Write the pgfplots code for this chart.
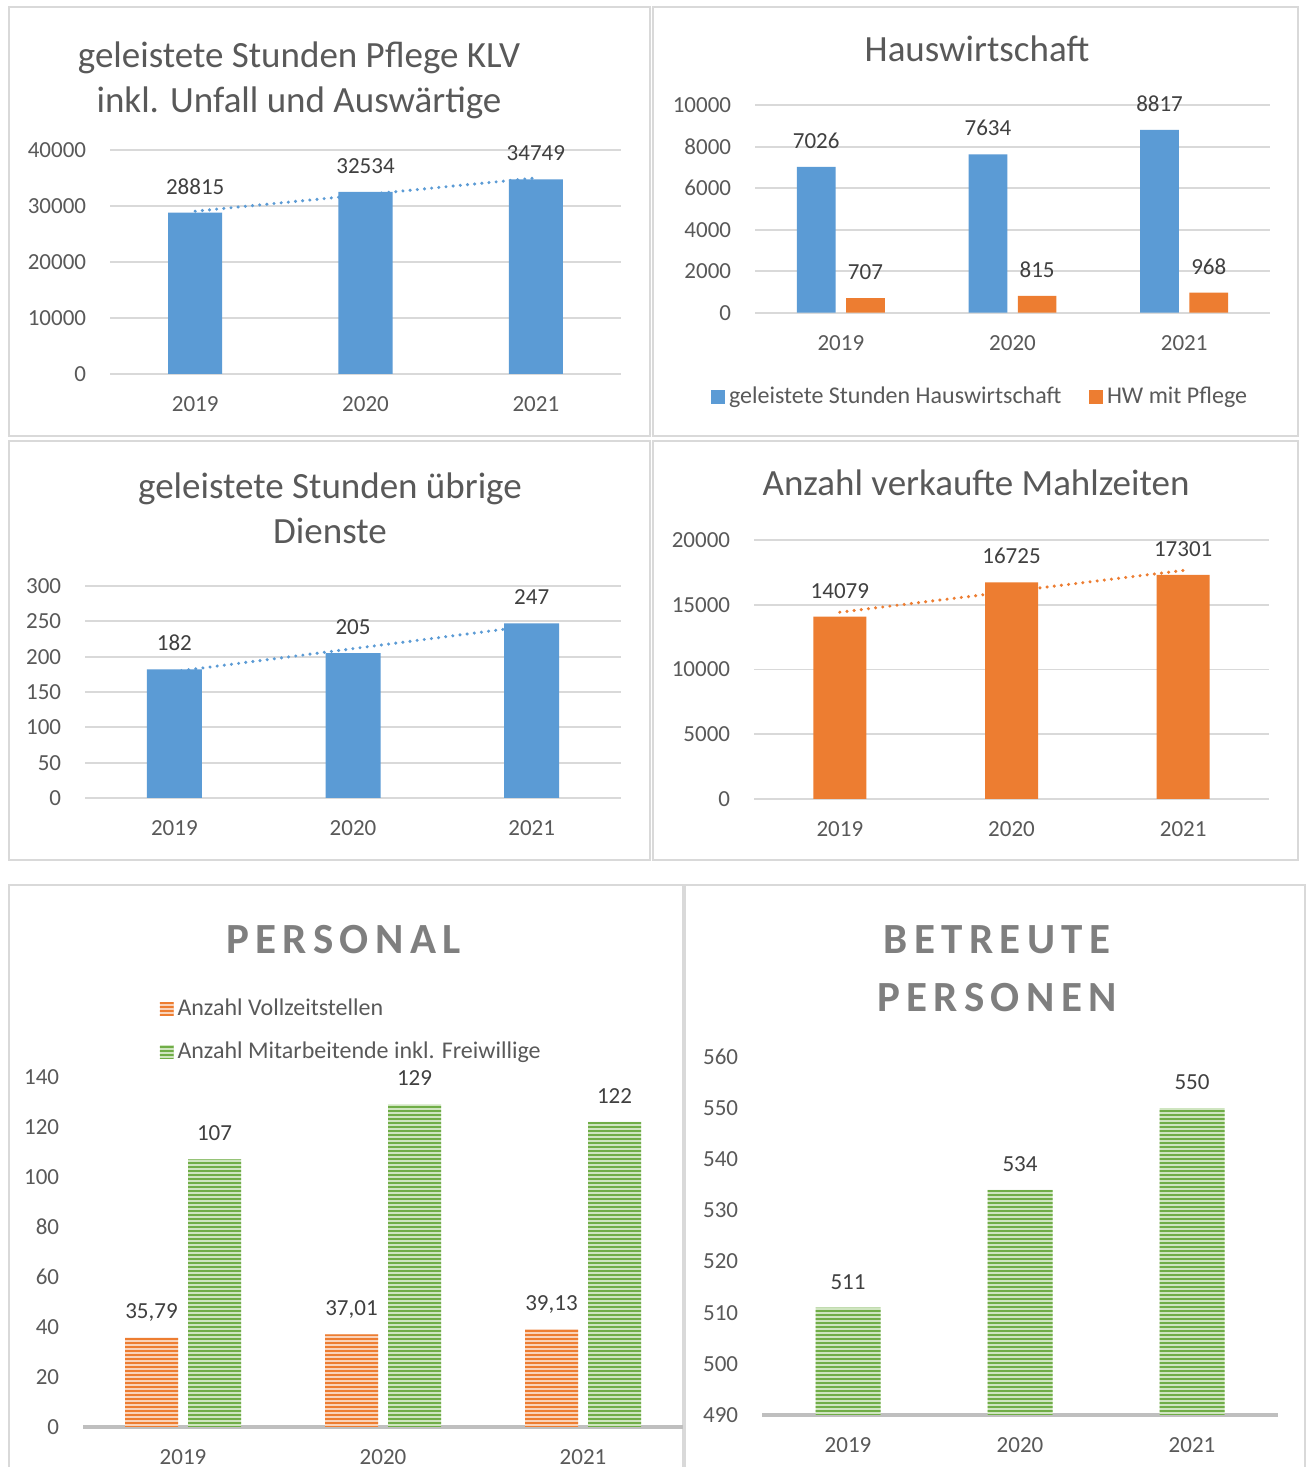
\documentclass[border=0pt]{standalone}
\usepackage{fontspec}
\setmainfont{Carlito}
\usepackage{pgfplots}
\pgfplotsset{compat=1.18}
\usetikzlibrary{patterns.meta}
\definecolor{cblue}{HTML}{5B9BD5}
\definecolor{corange}{HTML}{ED7D31}
\definecolor{cgreen}{HTML}{70AD47}
\definecolor{lgreen}{HTML}{CFE5C0}
\definecolor{lorange}{HTML}{F9D3BA}
\definecolor{txt}{HTML}{595959}
\definecolor{lbl}{HTML}{404040}
\definecolor{ttl}{HTML}{7F7F7F}
\definecolor{grd}{HTML}{D9D9D9}
\definecolor{basel}{HTML}{BFBFBF}
\definecolor{frm}{HTML}{D9D9D9}
\newcommand{\sm}{\fontsize{11.5}{13.8}\selectfont}
\newcommand{\legf}{\fontsize{12}{14}\selectfont}
\newcommand{\ttlf}{\fontsize{18.5}{22.5}\selectfont}
\newcommand{\bigt}{\fontsize{21.5}{26}\selectfont\bfseries\addfontfeature{LetterSpace=15}}
\pgfplotsset{
  base/.style={
    scale only axis, anchor=south west, ybar,
    xmin=-0.5, xmax=2.5,
    xtick={0,1,2}, xticklabels={2019,2020,2021},
    major tick length=0pt,
    scaled y ticks=false,
    /pgf/number format/assume math mode=true,
    /pgf/number format/1000 sep={},
    tick label style={font=\sm, text=txt},
    xticklabel style={anchor=center, yshift=-15.25pt, inner sep=0pt},
    yticklabel style={anchor=east, xshift=-11.75pt, inner sep=0pt},
    legend cell align=left,
    legend image code/.code={\fill[##1] (0pt,-3.4pt) rectangle (6.8pt,3.4pt);},
  },
  gridax/.style={base, ymajorgrids, major grid style={draw=grd, line width=0.9pt},
    axis line style={draw=none}, clip=false},
  baseax/.style={base, axis lines*=left, x axis line style={draw=basel, line width=1.6pt},
    y axis line style={draw=none}},
  lbls/.style={nodes near coords, every node near coord/.append style={font=\sm, text=lbl,
    anchor=south, yshift=9.1pt, inner sep=0pt, text depth=0pt}},
  trend/.style={sharp plot, line width=1.7pt, dash pattern=on 0pt off 3.6pt, line cap=round, forget plot},
  hgreen/.style={fill=lgreen, draw=none, postaction={pattern={Lines[angle=0,distance=2pt,line width=1.4pt]}, pattern color=cgreen}},
  horange/.style={fill=lorange, draw=none, postaction={pattern={Lines[angle=0,distance=2pt,line width=1.4pt]}, pattern color=corange}},
}
\begin{document}
\begin{tikzpicture}
\useasboundingbox (0,0) rectangle (653pt,733.5pt);
\fill[white] (0,0) rectangle (653pt,733.5pt);
% frames
\draw[frm, line width=0.75pt] (4.5pt,515.5pt) rectangle (325pt,730pt);
\draw[frm, line width=0.75pt] (326.5pt,515.5pt) rectangle (649pt,730pt);
\draw[frm, line width=0.75pt] (4.5pt,303.5pt) rectangle (325pt,513pt);
\draw[frm, line width=0.75pt] (326.5pt,303.5pt) rectangle (649pt,513pt);
\draw[frm, line width=0.75pt] (4.5pt,-5pt) rectangle (341.5pt,291pt);
\draw[frm, line width=0.75pt] (342.5pt,-5pt) rectangle (652.5pt,291pt);

% ---------- Panel 1
\node[anchor=base, font=\ttlf, text=txt] at (149.5pt,699.65pt) {geleistete Stunden Pflege KLV};
\node[anchor=base, font=\ttlf, text=txt] at (149.5pt,677.15pt) {inkl. Unfall und Auswärtige};
\begin{axis}[gridax, at={(55pt,546.5pt)}, width=255.5pt, height=112pt,
  ymin=0, ymax=40000, ytick={0,10000,20000,30000,40000}]
\addplot[bar width=27pt, bar shift=0pt, fill=cblue, draw=none, lbls] coordinates {(0,28815) (1,32534) (2,34749)};
\addplot[trend, cblue] coordinates {(0,29066) (2,35000)};
\end{axis}

% ---------- Panel 2
\node[anchor=base, font=\ttlf, text=txt] at (488.5pt,702.65pt) {Hauswirtschaft};
\begin{axis}[gridax, at={(377.5pt,577.15pt)}, width=257.5pt, height=103.7pt,
  ymin=0, ymax=10000, ytick={0,2000,4000,6000,8000,10000},
  legend columns=2,
  legend style={at={(-0.0854,-0.4065)}, anchor=west, draw=none, font=\legf, text=txt,
    inner sep=0pt, /tikz/every even column/.append style={column sep=12pt}}]
\addplot[bar width=19.35pt, bar shift=-12.3pt, fill=cblue, draw=none, lbls] coordinates {(0,7026) (1,7634) (2,8817)};
\addlegendentry{geleistete Stunden Hauswirtschaft}
\addplot[bar width=19.35pt, bar shift=12.3pt, fill=corange, draw=none, lbls] coordinates {(0,707) (1,815) (2,968)};
\addlegendentry{HW mit Pflege}
\end{axis}

% ---------- Panel 3
\node[anchor=base, font=\ttlf, text=txt] at (165pt,484.15pt) {geleistete Stunden übrige};
\node[anchor=base, font=\ttlf, text=txt] at (165pt,461.65pt) {Dienste};
\begin{axis}[gridax, at={(42.5pt,334.5pt)}, width=268pt, height=106pt,
  ymin=0, ymax=300, ytick={0,50,...,300}]
\addplot[bar width=27.5pt, bar shift=0pt, fill=cblue, draw=none, lbls] coordinates {(0,182) (1,205) (2,247)};
\addplot[trend, cblue] coordinates {(0,178.83) (2,243.83)};
\end{axis}

% ---------- Panel 4
\node[anchor=base, font=\ttlf, text=txt] at (488pt,485.5pt) {Anzahl verkaufte Mahlzeiten};
\begin{axis}[gridax, at={(377pt,334pt)}, width=257.5pt, height=129.5pt,
  ymin=0, ymax=20000, ytick={0,5000,10000,15000,20000}]
\addplot[bar width=26.5pt, bar shift=0pt, fill=corange, draw=none, lbls] coordinates {(0,14079) (1,16725) (2,17301)};
\addplot[trend, corange] coordinates {(0,14424) (2,17646)};
\end{axis}

% ---------- Panel 5
\node[anchor=base, text=ttl] at (171.75pt,256.85pt) {\bigt PERSONAL};
\begin{axis}[baseax, at={(41.5pt,20pt)}, width=300pt, height=175pt, clip=false,
  ymin=0, ymax=140, ytick={0,20,...,140},
  legend style={at={(0.1275,1.235)}, anchor=north west, draw=none, font=\legf, text=txt,
    inner sep=0pt, row sep=7.5pt}]
\addplot[bar width=26.5pt, bar shift=-15.75pt, horange, lbls, point meta=explicit symbolic]
  table[meta=lab] {
x y lab
0 35.79 35,79
1 37.01 37,01
2 39.13 39,13
};
\addlegendentry{Anzahl Vollzeitstellen}
\addplot[bar width=26.5pt, bar shift=15.75pt, hgreen, lbls] coordinates {(0,107) (1,129) (2,122)};
\addlegendentry{Anzahl Mitarbeitende inkl. Freiwillige}
\end{axis}

% ---------- Panel 6
\node[anchor=base, text=ttl] at (498.5pt,256.85pt) {\bigt BETREUTE};
\node[anchor=base, text=ttl] at (498.5pt,227.85pt) {\bigt PERSONEN};
\begin{axis}[baseax, at={(381pt,26pt)}, width=258pt, height=179pt,
  ymin=490, ymax=560, ytick={490,500,...,560}]
\addplot[bar width=32.5pt, bar shift=0pt, hgreen, lbls] coordinates {(0,511) (1,534) (2,550)};
\end{axis}
\end{tikzpicture}
\end{document}
